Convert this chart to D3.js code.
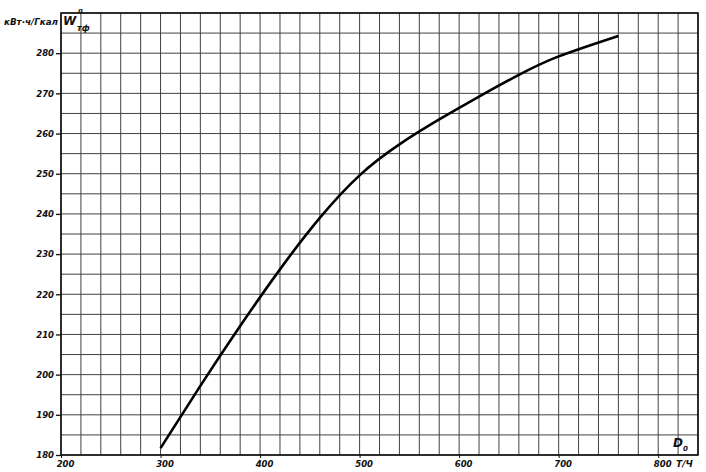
<!DOCTYPE html>
<html><head><meta charset="utf-8">
<script src="https://cdn.jsdelivr.net/npm/d3@7"></script>
<style>
body{margin:0;background:#fff;}
text{font-family:"DejaVu Sans",sans-serif;font-style:italic;font-weight:bold;fill:#111;}
</style></head><body>
<svg id="c" width="706" height="472"></svg>
<script>
// Data
const flowD0 = [300, 340, 380, 420, 460, 500, 540, 580, 620, 660, 700, 760];
const wTf    = [181.7, 197.2, 212.1, 226.2, 239.0, 249.6, 257.3, 263.5, 269.2, 274.6, 279.2, 284.3];
const xTickLabels = [200, 300, 400, 500, 600, 700, 800];
const yTickLabels = [180, 190, 200, 210, 220, 230, 240, 250, 260, 270, 280];

const svg = d3.select("#c");
const x = d3.scaleLinear().domain([200, 840]).range([61, 698]);
const y = d3.scaleLinear().domain([180, 290]).range([455, 13]);

// grid
const g = svg.append("g").attr("stroke", "#222").attr("stroke-width", 1).attr("opacity", 0.85);
g.selectAll("line.v").data(d3.range(200, 841, 20)).join("line")
  .attr("x1", d => x(d)).attr("x2", d => x(d)).attr("y1", y(180)).attr("y2", y(290));
g.selectAll("line.h").data(d3.range(180, 291, 5)).join("line")
  .attr("y1", d => y(d)).attr("y2", d => y(d)).attr("x1", x(200)).attr("x2", x(840));
svg.append("rect").attr("x", x(200)).attr("y", y(290)).attr("width", x(840) - x(200)).attr("height", y(180) - y(290))
  .attr("fill", "none").attr("stroke", "#111").attr("stroke-width", 1.6);

// axes
const ax = svg.append("g").attr("transform", `translate(${x(200)},0)`)
  .call(d3.axisLeft(y).tickValues(yTickLabels).tickSize(5).tickPadding(2).tickFormat(d3.format("d")));
ax.select(".domain").remove();
ax.selectAll("text").attr("font-size", 8.5).attr("font-family", "DejaVu Sans").attr("fill", "#111");
ax.selectAll("line").attr("stroke", "#111").attr("stroke-width", 1.3);

const bx = svg.append("g").attr("transform", `translate(0,${y(180)})`)
  .call(d3.axisBottom(x).tickValues(xTickLabels).tickSize(3).tickPadding(3).tickFormat(d3.format("d")));
bx.select(".domain").remove();
bx.selectAll("text").attr("font-size", 8.5).attr("font-family", "DejaVu Sans").attr("fill", "#111").attr("dx", 4);
bx.selectAll("line").attr("stroke", "#111");

// curve
const line = d3.line().x((d, i) => x(flowD0[i])).y((d, i) => y(wTf[i])).curve(d3.curveNatural);
svg.append("path").datum(wTf).attr("d", line).attr("fill", "none").attr("stroke", "#000").attr("stroke-width", 2.6);

// labels
svg.append("text").attr("x", 4).attr("y", 25).attr("font-size", 9.5)
  .attr("textLength", 54).attr("lengthAdjust", "spacingAndGlyphs").text("кВт·ч/Гкал");
svg.append("text").attr("x", 63).attr("y", 25).attr("font-size", 12).text("W");
svg.append("text").attr("x", 78).attr("y", 13).attr("font-size", 7).text("п");
svg.append("text").attr("x", 77).attr("y", 31).attr("font-size", 8).text("тф");
svg.append("text").attr("x", 673).attr("y", 447).attr("font-size", 12).attr("font-family", "DejaVu Serif").text("D");
svg.append("text").attr("x", 683).attr("y", 451).attr("font-size", 7).text("0");
svg.append("text").attr("x", 676).attr("y", 467).attr("font-size", 9).text("Т/Ч");
</script></body></html>
